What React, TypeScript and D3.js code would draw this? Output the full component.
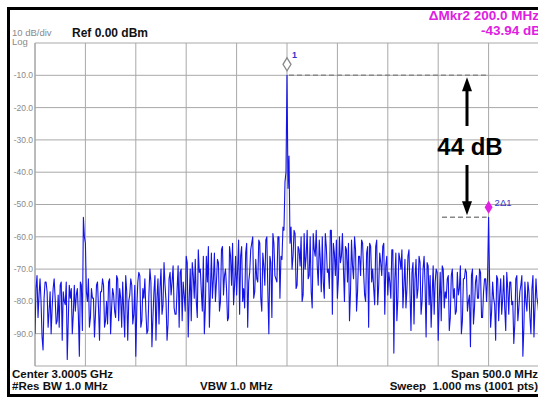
import React from "react";
import * as d3 from "d3";

// sweep: 2750.5 .. 3250.5 MHz in 1 MHz steps
// even array: 2750.5, 2752.5, ... ; odd array: 2751.5, 2753.5, ...
const freqStartMHz = 2750.5;
const freqStepMHz = 2;
const traceEvenDb = [
  -90, -72, -78, -80, -95, -74, -77, -83, -90, -76,
  -79, -86, -88, -74, -77, -81, -98, -75, -76, -84,
  -83, -76, -97, -75, -54, -62, -80, -88, -76, -79,
  -84, -74, -92, -77, -75, -86, -87, -73, -82, -78,
  -85, -73, -76, -88, -83, -72, -92, -78, -75, -84,
  -97, -74, -72, -86, -79, -83, -89, -70, -94, -77,
  -92, -73, -76, -84, -68, -80, -87, -71, -74, -82,
  -84, -69, -71, -86, -78, -66, -91, -70, -68, -79,
  -80, -64, -70, -83, -90, -66, -63, -77, -79, -65,
  -74, -68, -80, -63, -72, -76, -85, -66, -62, -75,
  -78, -61, -66, -80, -82, -62, -74, -64, -60, -77,
  -73, -61, -79, -65, -75, -60, -90, -68, -59, -72,
  -74, -60, -66, -57, -43, -10, -35, -57, -66, -59,
  -75, -64, -60, -78, -70, -58, -72, -77, -59, -66,
  -69, -61, -77, -74, -59, -71, -76, -58, -62, -72,
  -79, -60, -66, -70, -63, -74, -86, -61, -73, -64,
  -77, -66, -61, -71, -80, -63, -62, -74, -76, -63,
  -81, -65, -72, -62, -69, -78, -74, -64, -96, -65,
  -79, -67, -64, -75, -82, -66, -77, -71, -87, -67,
  -76, -68, -80, -66, -91, -69, -72, -78, -84, -70,
  -92, -71, -69, -82, -79, -72, -85, -70, -76, -83,
  -78, -69, -86, -73, -71, -80, -94, -70, -82, -72,
  -79, -71, -85, -73, -80, -53.94, -88, -74, -81, -72,
  -86, -73, -79, -82, -71, -84, -74, -80, -87, -72,
  -82, -75, -97, -74, -83, -77, -90, -72, -82, -79,
  -85,
];
const traceOddDb = [
  -76, -85, -73, -91, -79, -74, -88, -77, -82, -73,
  -87, -78, -75, -92, -80, -74, -86, -79, -90, -75,
  -78, -84, -74, -89, -60, -77, -73, -85, -79, -91,
  -75, -82, -77, -73, -88, -80, -74, -90, -76, -83,
  -72, -86, -79, -74, -91, -77, -80, -73, -87, -75,
  -82, -71, -88, -76, -73, -90, -78, -74, -85, -72,
  -79, -87, -70, -81, -75, -92, -73, -78, -69, -84,
  -76, -88, -70, -74, -83, -68, -79, -86, -72, -67,
  -85, -71, -77, -66, -82, -74, -88, -65, -73, -80,
  -67, -83, -64, -78, -70, -86, -63, -75, -81, -66,
  -70, -84, -63, -76, -65, -88, -71, -62, -79, -67,
  -74, -62, -83, -69, -61, -77, -66, -85, -62, -73,
  -60, -79, -67, -58, -40, -45, -62, -70, -58, -76,
  -63, -69, -80, -59, -66, -73, -60, -82, -64, -58,
  -75, -67, -60, -79, -63, -70, -58, -84, -65, -61,
  -73, -68, -59, -80, -64, -62, -77, -69, -60, -83,
  -66, -72, -62, -78, -65, -88, -63, -70, -81, -61,
  -75, -68, -63, -84, -66, -71, -79, -64, -73, -86,
  -65, -70, -82, -67, -76, -64, -89, -68, -73, -79,
  -66, -84, -70, -75, -68, -81, -88, -69, -74, -71,
  -80, -86, -70, -77, -73, -89, -72, -79, -84, -71,
  -76, -90, -73, -70, -83, -78, -72, -87, -74, -79,
  -70, -85, -77, -73, -72, -74, -83, -79, -92, -73,
  -78, -84, -72, -89, -76, -74, -81, -93, -73, -86,
  -77, -72, -88, -80, -74, -85, -76, -91, -73, -81,
];

const yTickDb = [-10, -20, -30, -40, -50, -60, -70, -80, -90];
const markerFreqMHz = [3000.5, 3200.5];
const markerDb = [-10, -53.94];

const W = 538;
const H = 399;
const plot = { left: 35, right: 539, top: 43, bottom: 366 };

const App = () => {
  const x = d3
    .scaleLinear()
    .domain([freqStartMHz, freqStartMHz + 500])
    .range([plot.left, plot.right]);
  const y = d3.scaleLinear().domain([-100, 0]).range([plot.bottom, plot.top]);

  const pts: [number, number][] = [
    ...traceEvenDb.map((v, i) => [freqStartMHz + i * freqStepMHz, v] as [number, number]),
    ...traceOddDb.map((v, i) => [freqStartMHz + 1 + i * freqStepMHz, v] as [number, number]),
  ].sort((a, b) => a[0] - b[0]);

  const line = d3
    .line<[number, number]>()
    .x((d) => x(d[0]))
    .y((d) => y(d[1]));

  const xGrid = d3.range(11).map((k) => freqStartMHz + k * 50);
  const yGrid = d3.range(11).map((k) => -k * 10);

  const m1x = x(markerFreqMHz[0]);
  const m1y = y(markerDb[0]);
  const m2x = x(markerFreqMHz[1]);
  const m2y = y(markerDb[1]);
  const arrowX = 467;

  const diamond = (cx: number, cy: number) =>
    `M${cx},${cy - 6.5} L${cx + 4},${cy} L${cx},${cy + 6.5} L${cx - 4},${cy} Z`;

  return (
    <svg
      width={W}
      height={H}
      style={{ position: "absolute", left: 0, top: 0, fontFamily: "Liberation Sans, Arial, sans-serif" }}
    >
      <rect x={0} y={0} width={W} height={H} fill="#fff" />
      <defs>
        <clipPath id="plotClip">
          <rect x={plot.left} y={plot.top} width={plot.right - plot.left} height={plot.bottom - plot.top} />
        </clipPath>
      </defs>

      {/* outer frame */}
      <rect x={8.5} y={8.5} width={600} height={387} fill="none" stroke="#000" strokeWidth={3} />

      {/* grid */}
      {xGrid.map((f, i) => (
        <line key={"gx" + i} x1={x(f)} x2={x(f)} y1={plot.top} y2={plot.bottom}
          stroke={i === 0 ? "#777" : "#a8a8a8"} strokeWidth={1} />
      ))}
      {yGrid.map((v, i) => (
        <line key={"gy" + i} x1={plot.left} x2={plot.right} y1={y(v)} y2={y(v)}
          stroke="#a8a8a8" strokeWidth={1} />
      ))}

      {/* y labels */}
      {yTickDb.map((v) => (
        <text key={v} x={33} y={y(v)} dy="0.35em" textAnchor="end" fontSize={8.5} fill="#8a8a8a">
          {v.toFixed(1)}
        </text>
      ))}

      {/* trace */}
      <g clipPath="url(#plotClip)">
        <path d={line(pts) || ""} fill="none" stroke="#1414e6" strokeWidth={1.1} strokeLinejoin="round" />
      </g>

      {/* header */}
      <text x={12} y={36} fontSize={9.5} fill="#8a8a8a">10 dB/div</text>
      <text x={12} y={45} fontSize={9.5} fill="#8a8a8a">Log</text>
      <text x={72} y={37} fontSize={12} fontWeight="bold" fill="#111">Ref 0.00 dBm</text>
      <text x={539} y={20} textAnchor="end" fontSize={13.5} fontWeight="bold" fill="#e020e0">ΔMkr2 200.0 MHz</text>
      <text x={541} y={35} textAnchor="end" fontSize={13.5} fontWeight="bold" fill="#e020e0">-43.94 dB</text>

      {/* markers */}
      <line x1={m1x + 2} x2={m2x - 2} y1={m1y} y2={m1y} stroke="#888" strokeWidth={1.5} strokeDasharray="5,3" />
      <line x1={442} x2={m2x - 2} y1={m2y} y2={m2y} stroke="#888" strokeWidth={1.5} strokeDasharray="5,3" />
      <path d={diamond(m1x, m1y - 11)} fill="#fff" stroke="#888" strokeWidth={1.3} />
      <text x={m1x + 5} y={m1y - 17} fontSize={9} fontWeight="bold" fill="#3434c8">1</text>
      <path d={diamond(m2x, m2y - 10)} fill="#e020e0" />
      <text x={m2x + 6} y={m2y - 11} fontSize={9.5} fill="#3434c8">2Δ1</text>

      {/* 44 dB annotation */}
      <line x1={arrowX} x2={arrowX} y1={126} y2={90} stroke="#000" strokeWidth={3} />
      <path d={`M${arrowX},${m1y + 2} L${arrowX - 5},${m1y + 16} L${arrowX + 5},${m1y + 16} Z`} fill="#000" />
      <line x1={arrowX} x2={arrowX} y1={165} y2={203} stroke="#000" strokeWidth={3} />
      <path d={`M${arrowX},${m2y - 2} L${arrowX - 5},${m2y - 16} L${arrowX + 5},${m2y - 16} Z`} fill="#000" />
      <text x={470} y={155} textAnchor="middle" fontSize={24} fontWeight="bold" fill="#000">44 dB</text>

      {/* footer */}
      <text x={12} y={378} fontSize={11.5} fontWeight="bold" fill="#111">Center 3.0005 GHz</text>
      <text x={12} y={390} fontSize={11.5} fontWeight="bold" fill="#111">#Res BW 1.0 MHz</text>
      <text x={200} y={390} fontSize={11.5} fontWeight="bold" fill="#111">VBW 1.0 MHz</text>
      <text x={538} y={378} textAnchor="end" fontSize={11.5} fontWeight="bold" fill="#111">Span 500.0 MHz</text>
      <text x={538} y={390} textAnchor="end" fontSize={11.5} fontWeight="bold" fill="#111" style={{ whiteSpace: "pre" }}>
        {"Sweep  1.000 ms (1001 pts)"}
      </text>
    </svg>
  );
};

export default App;
